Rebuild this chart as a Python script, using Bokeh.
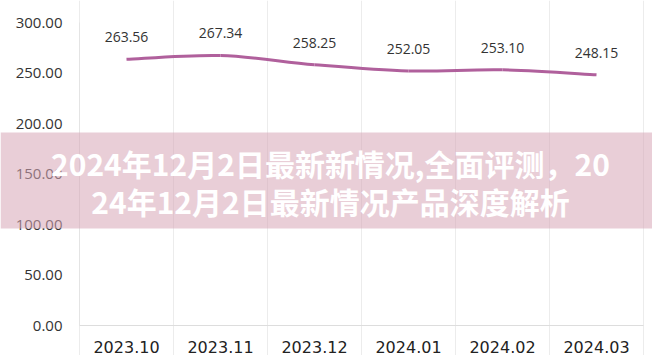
from bokeh.plotting import figure
from bokeh.models import (ColumnDataSource, FixedTicker, LabelSet, Label,
                          NumeralTickFormatter, Range1d)
from bokeh.core.properties import value
from bokeh.embed import file_html
from bokeh.resources import INLINE

# ---- data ----
categories = ["2023.10", "2023.11", "2023.12", "2024.01", "2024.02", "2024.03"]
values = [263.56, 267.34, 258.25, 252.05, 253.10, 248.15]
y_ticks = [0, 50, 100, 150, 200, 250, 300]
title_lines = ["2024年12月2日最新新情况,全面评测，20", "24年12月2日最新情况产品深度解析"]

n = len(categories)
xs = [i + 0.5 for i in range(n)]

# canvas layout (pixels): plot box from x 79..643, y 22..325 in a 652x355 canvas
W, H = 652, 355
L, R, T, B = 79, 643, 22, 325
y_max = 300.0
xpu = (R - L) / n
ypu = (B - T) / y_max

p = figure(width=W, height=H, output_backend="svg", toolbar_location=None,
           x_range=Range1d(-L / xpu, n + (W - R) / xpu),
           y_range=Range1d(-(H - B) / ypu, y_max + T / ypu),
           min_border=0, min_border_left=0, min_border_right=0,
           min_border_top=0, min_border_bottom=0)
p.outline_line_color = None
p.background_fill_color = "white"
p.border_fill_color = "white"

# grids
p.ygrid.grid_line_color = None
p.xgrid.ticker = FixedTicker(ticks=list(range(n + 1)))
p.xgrid.grid_line_color = "#ececec"
p.xgrid.bounds = (0, y_max)

# axes, fixed inside the frame
p.xaxis.fixed_location = 0
p.xaxis.bounds = (0, n)
p.xaxis.ticker = FixedTicker(ticks=xs)
p.xaxis.major_label_overrides = {x: c for x, c in zip(xs, categories)}
p.xaxis.major_tick_line_color = None
p.xaxis.minor_tick_line_color = None
p.xaxis.axis_line_color = "#dddddd"
p.xaxis.major_label_text_font = "DejaVu Sans"
p.xaxis.major_label_text_font_size = "16px"
p.xaxis.major_label_text_color = "#222222"
p.xaxis.major_label_standoff = 9

p.yaxis.fixed_location = 0
p.yaxis.bounds = (0, y_max)
p.yaxis.ticker = FixedTicker(ticks=y_ticks)
p.yaxis.formatter = NumeralTickFormatter(format="0.00")
p.yaxis.major_tick_line_color = None
p.yaxis.minor_tick_line_color = None
p.yaxis.axis_line_color = "#e4e4e4"
p.yaxis.major_label_text_font = "Open Sans"
p.yaxis.major_label_text_font_size = "15px"
p.yaxis.major_label_text_color = "#333333"
p.yaxis.major_label_standoff = 11

# smooth line via cubic bezier segments (Catmull-Rom control points)
s = 1.0 / 6.0
x0, y0, x1, y1, cx0, cy0, cx1, cy1 = [], [], [], [], [], [], [], []
for i in range(n - 1):
    pm = i - 1 if i > 0 else i
    pp = i + 2 if i + 2 < n else i + 1
    x0.append(xs[i]); y0.append(values[i])
    x1.append(xs[i + 1]); y1.append(values[i + 1])
    cx0.append(xs[i] + (xs[i + 1] - xs[pm]) * s)
    cy0.append(values[i] + (values[i + 1] - values[pm]) * s)
    cx1.append(xs[i + 1] - (xs[pp] - xs[i]) * s)
    cy1.append(values[i + 1] - (values[pp] - values[i]) * s)
p.bezier(x0=x0, y0=y0, x1=x1, y1=y1, cx0=cx0, cy0=cy0, cx1=cx1, cy1=cy1,
         line_color="#b0609c", line_width=3)

src = ColumnDataSource(dict(x=xs, y=values, t=["%.2f" % v for v in values]))
p.add_layout(LabelSet(x="x", y="y", text="t", source=src, y_offset=22,
                      text_align="center", text_baseline="middle",
                      text_font=value("Open Sans"), text_font_size="14px",
                      text_color="#333333"))

# translucent banner with the white headline
p.add_layout(Label(x=0, y=132, x_units="canvas", y_units="canvas",
                   text=" " * 60, text_font="DejaVu Sans Mono",
                   text_font_size="20px", text_align="left",
                   text_baseline="top", padding=(0, 0, 36, 36),
                   background_fill_color="#d7a5b6", background_fill_alpha=0.55,
                   level="annotation"))
for line, ty in zip(title_lines, [162, 200]):
    p.add_layout(Label(x=330, y=ty, x_units="canvas", y_units="canvas",
                       text=line, text_align="center", text_baseline="middle",
                       text_font="Noto Sans CJK SC", text_font_style="bold",
                       text_font_size="30px", text_color="white",
                       level="annotation"))

open("out.html", "w").write(file_html(p, INLINE))
